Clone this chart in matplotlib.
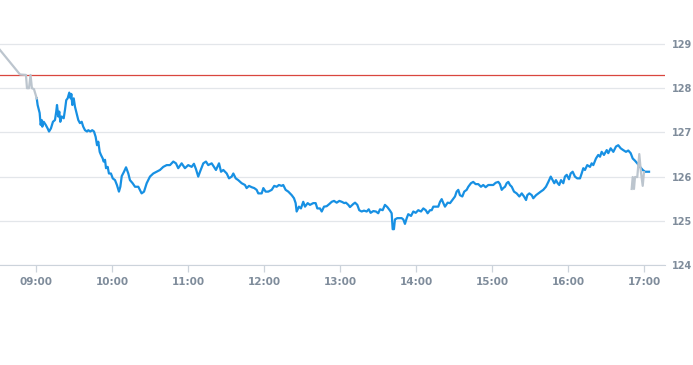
import matplotlib.pyplot as plt

# minutes after 09:00 and price
pre_t = [-30, -12.6, -7.9, -7.1, -5.5, -4.3, -3.2, -1.6, 0.6]
pre_p = [128.92, 128.31, 128.30, 128.00, 128.00, 128.30, 128.00, 127.98, 127.77]

day_t = [0.6, 1.3, 2.9, 3.7, 4.5, 5.0, 6.1, 7.7, 9.2, 10.3, 11.8, 13.4, 15.0, 16.0, 16.6,
         17.6, 18.4, 19.2, 20.3, 21.9, 22.9, 23.9, 25.0, 26.3, 27.4, 27.9, 28.7, 29.8, 30.8,
         32.1, 33.4, 34.7, 36.1, 37.3, 38.7, 40.3, 41.3, 42.9, 44.4, 45.8, 47.1, 48.2, 49.2,
         50.3, 51.3, 52.7, 53.4, 54.5, 55.3, 56.6, 57.6, 59.2, 60.6, 62.4, 63.9, 65.5, 66.6,
         67.7, 69.5, 71.1, 72.9, 74.2, 76.3, 78.2, 80.8, 83.4, 85.3, 87.4, 90.0, 92.6, 95.3,
         97.9, 100.5, 103.2, 105.8, 108.4, 110.5, 112.3, 115.0, 117.6, 120.2, 122.9, 124.7,
         126.3, 128.1, 129.5, 132.1, 134.2, 136.0, 138.7, 140.5, 142.1, 144.5, 146.1, 147.9,
         150.6, 152.4, 154.5, 155.8, 157.7, 159.7, 162.4, 165.0, 166.3, 168.2, 170.3, 172.3,
         174.2, 175.5, 178.2, 179.5, 181.3, 183.4, 186.1, 188.1, 190.0, 191.8, 194.0, 195.2,
         197.1, 199.2, 201.9, 203.7, 205.0, 205.8, 207.6, 209.2, 211.0, 212.4, 214.5, 216.3,
         218.9, 220.8, 222.1, 224.2, 225.6, 227.4, 229.5, 231.6, 233.5, 235.3, 237.4, 239.5,
         241.4, 243.4, 244.7, 246.6, 247.9, 250.5, 251.9, 253.7, 255.2, 257.1, 259.0, 261.1,
         262.7, 264.2, 266.3, 268.4, 270.2, 271.6, 273.7, 275.5, 277.4, 279.5, 280.8, 281.6,
         282.6, 283.4, 285.2, 288.7, 290.0, 291.3, 292.7, 293.9, 296.1, 297.9, 299.8, 301.8,
         304.0, 305.8, 307.7, 309.2, 311.1, 312.4, 313.7, 316.4, 317.6, 319.0, 320.3, 321.6,
         322.9, 325.0, 326.9, 328.7, 330.8, 332.1, 333.4, 334.7, 336.6, 338.1, 340.0, 341.3,
         343.4, 345.2, 347.1, 349.2, 351.3, 353.1, 355.0, 357.1, 359.2, 361.0, 362.9, 365.0,
         366.3, 367.7, 368.9, 370.3, 371.6, 372.9, 374.2, 375.6, 377.4, 379.5, 381.6, 383.5,
         385.3, 386.9, 387.9, 389.5, 391.4, 392.6, 394.8, 396.6, 398.5, 400.5, 402.6, 404.5,
         406.4, 407.9, 409.2, 410.5, 411.9, 413.1, 414.5, 416.3, 417.6, 419.0, 420.8, 422.1,
         423.7, 425.5, 427.3, 429.5, 430.8, 432.1, 433.4, 435.2, 437.4, 438.7, 440.0, 442.1,
         443.9, 445.3, 446.6, 448.4, 450.6, 451.8, 453.7, 455.8, 457.9, 459.7, 461.6, 463.6,
         465.8, 467.6, 469.5, 471.1, 472.9, 474.7, 476.9, 479.0, 480.8, 484.0]
day_p = [127.77, 127.62, 127.44, 127.17, 127.28, 127.13, 127.24, 127.17, 127.09, 127.02, 127.09,
         127.24, 127.28, 127.47, 127.62, 127.36, 127.47, 127.24, 127.36, 127.32, 127.51, 127.73,
         127.77, 127.90, 127.77, 127.87, 127.62, 127.77, 127.58, 127.43, 127.28, 127.21, 127.24,
         127.13, 127.05, 127.02, 127.05, 127.02, 127.05, 127.02, 126.90, 126.71, 126.79, 126.56,
         126.49, 126.41, 126.34, 126.38, 126.19, 126.22, 126.07, 126.07, 125.96, 125.92, 125.81,
         125.66, 125.77, 126.01, 126.11, 126.21, 126.07, 125.92, 125.85, 125.77, 125.77, 125.62,
         125.66, 125.85, 126.00, 126.07, 126.11, 126.15, 126.22, 126.26, 126.26, 126.34, 126.30,
         126.19, 126.30, 126.19, 126.26, 126.22, 126.29, 126.17, 126.00, 126.11, 126.30, 126.34,
         126.26, 126.30, 126.22, 126.15, 126.30, 126.11, 126.15, 126.07, 125.96, 126.00, 126.07,
         125.96, 125.92, 125.85, 125.81, 125.74, 125.79, 125.76, 125.74, 125.70, 125.62, 125.62,
         125.74, 125.66, 125.66, 125.70, 125.79, 125.77, 125.81, 125.79, 125.81, 125.70, 125.66,
         125.58, 125.51, 125.40, 125.21, 125.32, 125.28, 125.43, 125.32, 125.40, 125.36, 125.40,
         125.40, 125.28, 125.28, 125.21, 125.32, 125.33, 125.38, 125.43, 125.45, 125.41, 125.45,
         125.43, 125.40, 125.41, 125.36, 125.31, 125.38, 125.41, 125.36, 125.24, 125.21, 125.23,
         125.21, 125.26, 125.18, 125.22, 125.21, 125.17, 125.26, 125.24, 125.36, 125.31, 125.23,
         125.17, 124.81, 124.81, 125.03, 125.06, 125.06, 125.03, 124.93, 125.06, 125.15, 125.11,
         125.21, 125.18, 125.24, 125.21, 125.28, 125.24, 125.17, 125.24, 125.24, 125.32, 125.32,
         125.32, 125.43, 125.49, 125.40, 125.32, 125.41, 125.40, 125.47, 125.55, 125.66, 125.70,
         125.58, 125.55, 125.66, 125.70, 125.77, 125.85, 125.88, 125.83, 125.83, 125.77, 125.81,
         125.76, 125.81, 125.81, 125.81, 125.86, 125.88, 125.83, 125.70, 125.74, 125.77, 125.85,
         125.88, 125.81, 125.77, 125.66, 125.62, 125.55, 125.62, 125.55, 125.47, 125.58, 125.62,
         125.58, 125.51, 125.58, 125.62, 125.66, 125.70, 125.77, 125.88, 126.00, 125.92, 125.85,
         125.92, 125.85, 125.81, 125.92, 125.85, 126.00, 126.04, 125.94, 126.07, 126.11, 126.00,
         125.96, 125.96, 126.07, 126.19, 126.15, 126.26, 126.22, 126.30, 126.26, 126.41, 126.49,
         126.45, 126.56, 126.49, 126.60, 126.53, 126.64, 126.56, 126.68, 126.71, 126.64, 126.60,
         126.56, 126.59, 126.53, 126.41, 126.36, 126.30, 126.22, 126.15, 126.11, 126.11]

post_t = [470.3, 471.1, 472.1, 472.9, 474.7, 476.3, 477.6, 479.0, 480.0]
post_p = [125.72, 125.99, 125.72, 125.99, 125.99, 126.51, 126.10, 125.79, 126.10]

prev_close = 128.30
tick_hours = [9, 10, 11, 12, 13, 14, 15, 16, 17]
tick_labels = ['%02d:00' % h for h in tick_hours]
y_ticks = [124, 125, 126, 127, 128, 129]

fig = plt.figure(figsize=(6.93, 3.65), dpi=100)
ax = fig.add_axes([0, 0.274, 0.9596, 0.666])

ax.plot(day_t, day_p, color='#1790e3', lw=1.6, zorder=3)
ax.plot(pre_t, pre_p, color='#bcc5ce', lw=1.6, zorder=3)
ax.plot(post_t, post_p, color='#bcc5ce', lw=1.6, zorder=4)
ax.axhline(prev_close, color='#d9463e', lw=0.9, zorder=2)

ax.set_xlim(-28.4, 496.6)
ax.set_ylim(124, 129.5)
ax.set_xticks([(h - 9) * 60 for h in tick_hours])
ax.set_xticklabels(tick_labels)
ax.set_yticks(y_ticks)
ax.yaxis.tick_right()
ax.grid(axis='y', color='#e3e6ea', lw=0.9)
ax.set_axisbelow(True)

for s in ['top', 'left', 'right']:
    ax.spines[s].set_visible(False)
ax.spines['bottom'].set_color('#ccd3db')
ax.tick_params(axis='x', colors='#ccd3db', length=5, width=0.9, pad=4,
               labelcolor='#7f8c9b', labelsize=7.5)
ax.tick_params(axis='y', length=0, pad=5, labelcolor='#7f8c9b', labelsize=7)
for lab in ax.get_xticklabels() + ax.get_yticklabels():
    lab.set_fontweight('bold')

fig.savefig('out.png', dpi=100)
